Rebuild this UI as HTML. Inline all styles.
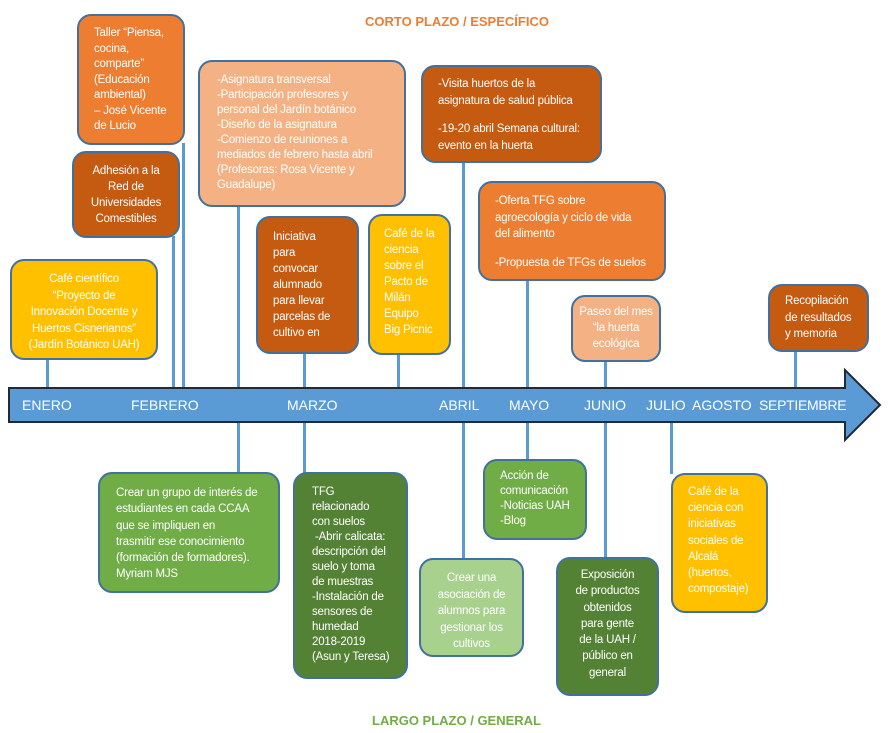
<!DOCTYPE html>
<html><head><meta charset="utf-8"><style>
body{margin:0;width:889px;height:733px;background:#fff;position:relative;overflow:hidden;font-family:"Liberation Sans",sans-serif;}
.b{position:absolute;box-sizing:border-box;border:2px solid #41719C;border-radius:14px;color:#fff;font-size:11.5px;line-height:15.5px;overflow:hidden;white-space:nowrap;letter-spacing:-0.2px;}
.c{text-align:center;}
.l{position:absolute;background:#5B9BD5;width:3px;}
.m{position:absolute;top:397px;color:#fff;font-size:14px;white-space:nowrap;}
.t{position:absolute;font-weight:bold;font-size:13px;}
</style></head><body>
<div class="t" style="left:365px;top:14px;color:#ED7D31">CORTO PLAZO / ESPECÍFICO</div>
<div class="t" style="left:372px;top:713px;color:#70AD47">LARGO PLAZO / GENERAL</div>

<div class="l" style="left:46px;top:358px;height:32px"></div>
<div class="l" style="left:172px;top:236px;height:154px"></div>
<div class="l" style="left:182px;top:143px;height:247px"></div>
<div class="l" style="left:237px;top:205px;height:185px"></div>
<div class="l" style="left:303px;top:352px;height:38px"></div>
<div class="l" style="left:397px;top:353px;height:37px"></div>
<div class="l" style="left:462px;top:161px;height:229px"></div>
<div class="l" style="left:526px;top:279px;height:111px"></div>
<div class="l" style="left:604px;top:360px;height:30px"></div>
<div class="l" style="left:794px;top:350px;height:40px"></div>
<div class="l" style="left:237px;top:420px;height:53px"></div>
<div class="l" style="left:303px;top:420px;height:53px"></div>
<div class="l" style="left:462px;top:420px;height:139px"></div>
<div class="l" style="left:526px;top:420px;height:40px"></div>
<div class="l" style="left:604px;top:420px;height:138px"></div>
<div class="l" style="left:670px;top:420px;height:54px"></div>

<svg style="position:absolute;left:0;top:0" width="889" height="733"><polygon points="9,388 845,388 845,370 880,405 845,440 845,422 9,422" fill="#5B9BD5" stroke="#1F2A36" stroke-width="2"/></svg>
<div class="m" style="left:22px">ENERO</div>
<div class="m" style="left:131px">FEBRERO</div>
<div class="m" style="left:287px">MARZO</div>
<div class="m" style="left:439px">ABRIL</div>
<div class="m" style="left:509px">MAYO</div>
<div class="m" style="left:584px">JUNIO</div>
<div class="m" style="left:646px">JULIO</div>
<div class="m" style="left:692px">AGOSTO</div>
<div class="m" style="left:759px;letter-spacing:-0.3px">SEPTIEMBRE</div>

<div class="b" style="left:77px;top:14px;width:108px;height:131px;background:#ED7D31;padding:10px 0 0 15px">Taller “Piensa,<br>cocina,<br>comparte”<br>(Educación<br>ambiental)<br>– José Vicente<br>de Lucio</div>
<div class="b c" style="left:72px;top:151px;width:108px;height:87px;background:#C55A11;padding:10px 0 0;line-height:16px">Adhesión a la<br>Red de<br>Universidades<br>Comestibles</div>
<div class="b c" style="left:10px;top:259px;width:148px;height:101px;background:#FFC000;padding:10px 0 0;line-height:16.5px">Café científico<br>“Proyecto de<br>Innovación Docente y<br>Huertos Cisnerianos”<br>(Jardín Botánico UAH)</div>
<div class="b" style="left:198px;top:60px;width:208px;height:147px;background:#F4B183;padding:11px 0 0 17px;line-height:15px">-Asignatura transversal<br>-Participación profesores y<br>personal del Jardín botánico<br>-Diseño de la asignatura<br>-Comienzo de reuniones a<br>mediados de febrero hasta abril<br>(Profesoras: Rosa Vicente y<br>Guadalupe)</div>
<div class="b" style="left:256px;top:216px;width:103px;height:138px;background:#C55A11;padding:11px 0 0 15px;line-height:16px">Iniciativa<br>para<br>convocar<br>alumnado<br>para llevar<br>parcelas de<br>cultivo en</div>
<div class="b" style="left:368px;top:214px;width:83px;height:141px;background:#FFC000;padding:10px 0 0 14px;line-height:16px">Café de la<br>ciencia<br>sobre el<br>Pacto de<br>Milán<br>Equipo<br>Big Picnic</div>
<div class="b" style="left:421px;top:65px;width:181px;height:98px;background:#C55A11;padding:9px 0 0 15px;line-height:17px">-Visita huertos de la<br>asignatura de salud pública<div style="height:11px"></div>-19-20 abril Semana cultural:<br>evento en la huerta</div>
<div class="b" style="left:478px;top:181px;width:188px;height:100px;background:#ED7D31;padding:10px 0 0 15px;line-height:16.5px">-Oferta TFG sobre<br>agroecología y ciclo de vida<br>del alimento<div style="height:12px"></div>-Propuesta de TFGs de suelos</div>
<div class="b c" style="left:571px;top:295px;width:90px;height:67px;background:#F4B183;padding:7px 0 0;line-height:16px">Paseo del mes<br>“la huerta<br>ecológica</div>
<div class="b" style="left:768px;top:284px;width:101px;height:68px;background:#C55A11;padding:7px 0 0 15px;line-height:16.5px">Recopilación<br>de resultados<br>y memoria</div>

<div class="b" style="left:98px;top:472px;width:182px;height:121px;background:#70AD47;padding:11px 0 0 16px;line-height:16.3px">Crear un grupo de interés de<br>estudiantes en cada CCAA<br>que se impliquen en<br>trasmitir ese conocimiento<br>(formación de formadores).<br>Myriam MJS</div>
<div class="b" style="left:293px;top:472px;width:115px;height:207px;background:#548235;padding:11px 0 0 17px;line-height:15px">TFG<br>relacionado<br>con suelos<br>&nbsp;-Abrir calicata:<br>descripción del<br>suelo y toma<br>de muestras<br>-Instalación de<br>sensores de<br>humedad<br>2018-2019<br>(Asun y Teresa)</div>
<div class="b c" style="left:419px;top:558px;width:105px;height:99px;background:#A9D18E;padding:10px 0 0;line-height:16.5px">Crear una<br>asociación de<br>alumnos para<br>gestionar los<br>cultivos</div>
<div class="b" style="left:483px;top:459px;width:104px;height:81px;background:#70AD47;padding:8px 0 0 15px;line-height:15px">Acción de<br>comunicación<br>-Noticias UAH<br>-Blog</div>
<div class="b c" style="left:556px;top:557px;width:103px;height:139px;background:#548235;padding:8px 0 0;line-height:16.3px">Exposición<br>de productos<br>obtenidos<br>para gente<br>de la UAH /<br>público en<br>general</div>
<div class="b" style="left:671px;top:473px;width:97px;height:140px;background:#FFC000;padding:9px 0 0 15px;line-height:16.2px">Café de la<br>ciencia con<br>iniciativas<br>sociales de<br>Alcalá<br>(huertos,<br>compostaje)</div>
</body></html>
